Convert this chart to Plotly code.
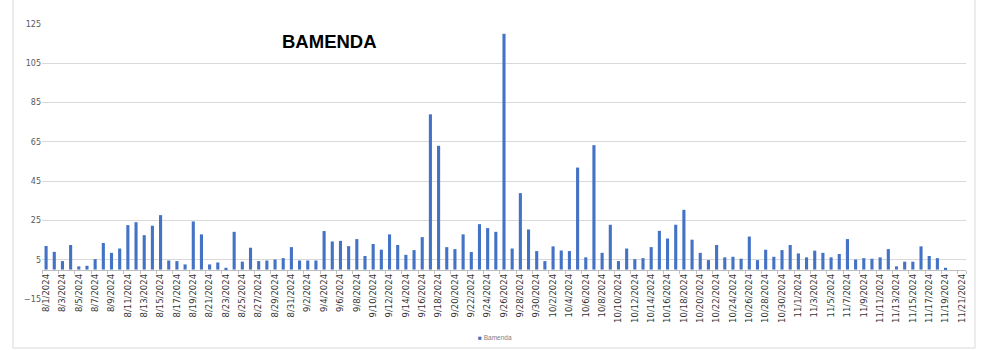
import datetime as dt
import plotly.graph_objects as go

# Daily values, Bamenda, 1 Aug 2024 - 21 Nov 2024
start = dt.date(2024, 8, 1)
n_days = 113
dates = [start + dt.timedelta(days=i) for i in range(n_days)]
categories = [f"{d.month}/{d.day}/{d.year}" for d in dates]

aug = [12, 9, 4.3, 12.5, 1.6, 1.9, 5.3, 13.5, 8.5, 10.7,
       22.6, 24.1, 17.5, 22.3, 27.7, 4.6, 4.3, 2.6, 24.5, 17.9,
       2.6, 3.6, 0.9, 19.2, 4, 11.1, 4.3, 4.6, 5.1, 5.8, 11.4]
sep = [4.6, 4.6, 4.6, 19.6, 14.3, 14.6, 11.9, 15.5, 6.9, 13,
       10.1, 17.9, 12.5, 7.5, 9.9, 16.5, 79, 63, 11.4, 10.4,
       17.9, 8.9, 23.1, 21.1, 19.2, 120, 10.7, 38.9, 20.4, 9.4]
oct_ = [4.3, 11.8, 9.7, 9.4, 51.9, 6.2, 63.3, 8.5, 22.8, 4.3,
        10.7, 5.3, 5.8, 11.4, 19.7, 15.8, 22.8, 30.4, 15.2, 8.5,
        4.8, 12.5, 6.2, 6.5, 5.5, 16.8, 4.8, 10.1, 6.5, 9.9, 12.5]
nov = [8.2, 6.2, 9.6, 8.5, 6.2, 7.9, 15.5, 5.1, 5.8, 5.5,
       6.2, 10.4, 1.6, 4, 4, 11.8, 6.9, 5.8, 0.9, 0, 0]
values = aug + sep + oct_ + nov

tick_labels = categories[::2]
y_ticks = [-15, 5, 25, 45, 65, 85, 105, 125]
series_name = "Bamenda"

BLUE = "#4472C4"
GRID = "#D9D9D9"
FONT = "DejaVu Sans, Verdana, sans-serif"

fig = go.Figure(
    go.Bar(
        x=categories,
        y=values,
        name=series_name,
        marker=dict(color=BLUE, line=dict(width=0)),
        showlegend=False,
    )
)

fig.update_layout(
    width=988,
    height=350,
    margin=dict(l=42, r=22, t=24, b=51, autoexpand=False),
    paper_bgcolor="white",
    plot_bgcolor="white",
    bargap=0.62,
    font=dict(family=FONT, color="#595959"),
    showlegend=False,
    annotations=[
        dict(
            text="<b>BAMENDA</b>",
            xref="paper",
            yref="paper",
            x=0.258,
            y=0.935,
            xanchor="left",
            yanchor="middle",
            showarrow=False,
            font=dict(size=18.5, color="#000000",
                      family="Liberation Sans, Arial, sans-serif"),
        ),
        # legend entry: small square key followed by the series name
        dict(
            text=f"<span style='color:{BLUE}'>■</span> {series_name}",
            xref="paper",
            yref="paper",
            x=(476 - 42) / 924,
            y=(299 - 337) / 275,
            xanchor="left",
            yanchor="middle",
            showarrow=False,
            font=dict(size=6.5, color="#7F7F7F",
                      family="Liberation Sans, Arial, sans-serif"),
        ),
    ],
    shapes=[
        dict(
            type="rect",
            xref="paper",
            yref="paper",
            x0=(13 - 42) / 924,
            x1=(975 - 42) / 924,
            y0=(299 - 348) / 275,
            y1=(299 + 2) / 275,
            line=dict(color=GRID, width=1),
            fillcolor="rgba(0,0,0,0)",
            layer="below",
        )
    ],
)

fig.update_yaxes(
    range=[-15, 125],
    tickvals=y_ticks,
    showgrid=True,
    gridcolor=GRID,
    gridwidth=1,
    zeroline=False,
    showline=False,
    ticks="",
    automargin=False,
    tickfont=dict(size=8, color="#595959", family=FONT),
)

fig.update_xaxes(
    type="category",
    categoryorder="array",
    categoryarray=categories,
    tickvals=tick_labels,
    ticktext=tick_labels,
    tickangle=-90,
    tickfont=dict(size=8.5, color="#333333", family=FONT),
    showgrid=False,
    showline=True,
    linecolor="#BFBFBF",
    linewidth=1,
    ticks="outside",
    ticklen=3,
    tickcolor="#BFBFBF",
    tickson="boundaries",
    automargin=False,
    anchor="free",
    position=15 / 140,
)

fig.write_html("out.html")
